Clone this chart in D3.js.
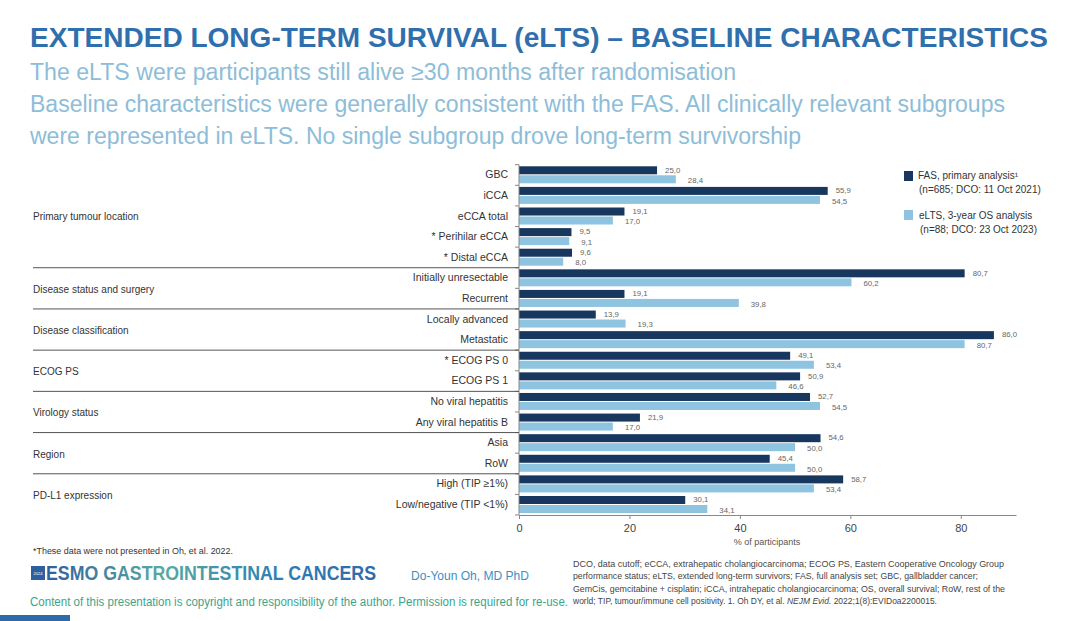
<!DOCTYPE html>
<html>
<head>
<meta charset="utf-8">
<script src="https://cdn.jsdelivr.net/npm/d3@7"></script>
<style>
  html, body { margin: 0; padding: 0; background: #fff; }
  svg { display: block; font-family: "Liberation Sans", Arial, sans-serif; }
</style>
</head>
<body>
<div id="chart"></div>
<script>
// categories, top to bottom
const CATEGORIES = [
  "GBC", "iCCA", "eCCA total", "* Perihilar eCCA", "* Distal eCCA",
  "Initially unresectable", "Recurrent",
  "Locally advanced", "Metastatic",
  "* ECOG PS 0", "ECOG PS 1",
  "No viral hepatitis", "Any viral hepatitis B",
  "Asia", "RoW",
  "High (TIP \u22651%)", "Low/negative (TIP <1%)"
];

// groups: label + number of categories in it
const GROUPS = [
  { label: "Primary tumour location", size: 5 },
  { label: "Disease status and surgery", size: 2 },
  { label: "Disease classification", size: 2 },
  { label: "ECOG PS", size: 2 },
  { label: "Virology status", size: 2 },
  { label: "Region", size: 2 },
  { label: "PD-L1 expression", size: 2 }
];

const FAS_VALUES  = [25.0, 55.9, 19.1, 9.5, 9.6, 80.7, 19.1, 13.9, 86.0, 49.1, 50.9, 52.7, 21.9, 54.6, 45.4, 58.7, 30.1];
const ELTS_VALUES = [28.4, 54.5, 17.0, 9.1, 8.0, 60.2, 39.8, 19.3, 80.7, 53.4, 46.6, 54.5, 17.0, 50.0, 50.0, 53.4, 34.1];

const X_TICKS = [0, 20, 40, 60, 80];

const SERIES = [
  { key: "fas", values: FAS_VALUES, color: "#17375e",
    legend: ["FAS, primary analysis\u00b9", "(n=685; DCO: 11 Oct 2021)"] },
  { key: "elts", values: ELTS_VALUES, color: "#8fc4e0",
    legend: ["eLTS, 3-year OS analysis", "(n=88; DCO: 23 Oct 2023)"] }
];

const ABBREV = [
  "DCO, data cutoff; eCCA, extrahepatic cholangiocarcinoma; ECOG PS, Eastern Cooperative Oncology Group",
  "performance status; eLTS, extended long-term survivors; FAS, full analysis set; GBC, gallbladder cancer;",
  "GemCis, gemcitabine + cisplatin; iCCA, intrahepatic cholangiocarcinoma; OS, overall survival; RoW, rest of the"
];

const W = 1080, H = 621;
const svg = d3.select("#chart").append("svg").attr("width", W).attr("height", H);

// ---- header ----
svg.append("text")
  .attr("x", 30).attr("y", 47)
  .attr("font-family", "'Liberation Sans Narrow', 'Liberation Sans', Arial, sans-serif")
  .attr("font-size", 28).attr("font-weight", "bold")
  .attr("fill", "#2f6fae")
  .attr("textLength", 1018).attr("lengthAdjust", "spacingAndGlyphs")
  .text("EXTENDED LONG-TERM SURVIVAL (eLTS) \u2013 BASELINE CHARACTERISTICS");

const subLines = [
  { t: "The eLTS were participants still alive \u226530 months after randomisation", y: 80, w: 706 },
  { t: "Baseline characteristics were generally consistent with the FAS. All clinically relevant subgroups", y: 112, w: 975 },
  { t: "were represented in eLTS. No single subgroup drove long-term survivorship", y: 144, w: 771 }
];
svg.selectAll(".sub").data(subLines).join("text")
  .attr("x", 30).attr("y", d => d.y)
  .attr("font-family", "'Liberation Sans Narrow', 'Liberation Sans', Arial, sans-serif")
  .attr("font-size", 23)
  .attr("fill", "#8dbdd8")
  .attr("textLength", d => d.w).attr("lengthAdjust", "spacingAndGlyphs")
  .text(d => d.t);

// ---- chart ----
const x = d3.scaleLinear().domain([0, 90]).range([519, 1016]);
const y = d3.scaleBand().domain(CATEGORIES).range([164.7, 515]);
const barH = 8;

const chart = svg.append("g");

// bars + value labels
SERIES.forEach((s, si) => {
  const barY = i => y(CATEGORIES[i]) + 1.6 + si * (barH + 1);
  chart.selectAll(".bar-" + s.key).data(s.values).join("rect")
    .attr("x", x(0))
    .attr("y", (d, i) => barY(i))
    .attr("width", d => x(d) - x(0))
    .attr("height", barH)
    .attr("fill", s.color);

  chart.selectAll(".val-" + s.key).data(s.values).join("text")
    .attr("x", d => x(d) + (si === 0 ? 8 : 12))
    .attr("y", (d, i) => barY(i) + barH / 2 + (si === 0 ? -0.5 : 1))
    .attr("dy", "0.35em")
    .attr("font-size", 7.8)
    .attr("fill", "#666")
    .text(d => d.toFixed(1).replace(".", ","));
});

// x axis
const xAxis = chart.append("g")
  .attr("transform", "translate(0,515)")
  .call(d3.axisBottom(x).tickValues(X_TICKS).tickSize(4).tickSizeOuter(0));
xAxis.select(".domain").attr("stroke", "#888");
xAxis.selectAll(".tick line").attr("stroke", "#888");
xAxis.selectAll("text").attr("font-size", 11).attr("fill", "#444").attr("dy", "0.9em");

chart.append("text")
  .attr("x", 767).attr("y", 545)
  .attr("text-anchor", "middle").attr("font-size", 9).attr("fill", "#555")
  .text("% of participants");

// y axis
const yAxis = chart.append("g")
  .attr("transform", "translate(519,0)")
  .call(d3.axisLeft(y).tickSize(0).tickPadding(11));
yAxis.select(".domain").attr("stroke", "#888").attr("d", `M0,${y.range()[0]}V515`);
yAxis.selectAll("text").attr("font-size", 10.5).attr("fill", "#333");

// ticks between categories
const bounds = d3.range(CATEGORIES.length + 1).map(i => y.range()[0] + i * y.step());
chart.selectAll(".ytick").data(bounds).join("line")
  .attr("x1", 515).attr("x2", 519)
  .attr("y1", d => d).attr("y2", d => d)
  .attr("stroke", "#888");

// group labels + separators
let start = 0;
GROUPS.forEach((g, gi) => {
  const top = y(CATEGORIES[start]);
  const bottom = y(CATEGORIES[start + g.size - 1]) + y.step();
  chart.append("text")
    .attr("x", 33)
    .attr("y", gi === 0 ? top + y.step() * 2.5 : (top + bottom) / 2 + 1)
    .attr("dy", "0.35em")
    .attr("font-size", 10).attr("fill", "#333")
    .text(g.label);
  if (gi < GROUPS.length - 1) {
    chart.append("line")
      .attr("x1", 33).attr("x2", 519)
      .attr("y1", bottom).attr("y2", bottom)
      .attr("stroke", "#555").attr("stroke-width", 1);
  }
  start += g.size;
});

// legend
const legend = svg.append("g");
SERIES.forEach((s, i) => {
  const ly = 171 + i * 39;
  legend.append("rect").attr("x", 904).attr("y", ly).attr("width", 9).attr("height", 10).attr("fill", s.color);
  legend.selectAll(".lg" + i).data(s.legend).join("text")
    .attr("x", 918 + (i === 1 ? 1 : 0)).attr("y", (d, j) => ly + 8 + j * 14 + (i === 1 ? 1 : 0))
    .attr("dx", (d, j) => j === 1 ? 1 : 0)
    .attr("font-size", 10).attr("fill", "#333")
    .text(d => d);
});

// ---- footer ----
svg.append("text")
  .attr("x", 33).attr("y", 554)
  .attr("font-size", 8.5).attr("fill", "#333")
  .attr("textLength", 200).attr("lengthAdjust", "spacingAndGlyphs")
  .text("*These data were not presented in Oh, et al. 2022.");

const grad = svg.append("defs").append("linearGradient").attr("id", "esmo");
grad.append("stop").attr("offset", "0%").attr("stop-color", "#2f5f9e");
grad.append("stop").attr("offset", "35%").attr("stop-color", "#5aa9a0");
grad.append("stop").attr("offset", "70%").attr("stop-color", "#2e7fb5");
grad.append("stop").attr("offset", "100%").attr("stop-color", "#2f6aa8");

svg.append("rect").attr("x", 31).attr("y", 566).attr("width", 14).attr("height", 14).attr("fill", "#2f5f9e");
svg.append("text").attr("x", 38).attr("y", 575).attr("text-anchor", "middle")
  .attr("font-size", 4).attr("fill", "#fff").text("2024");
svg.append("text")
  .attr("x", 46).attr("y", 580)
  .attr("font-family", "'Liberation Sans Narrow', 'Liberation Sans', Arial, sans-serif")
  .attr("font-size", 20).attr("font-weight", "bold")
  .attr("fill", "url(#esmo)")
  .attr("textLength", 330).attr("lengthAdjust", "spacingAndGlyphs")
  .text("ESMO GASTROINTESTINAL CANCERS");

svg.append("text")
  .attr("x", 411).attr("y", 580)
  .attr("font-size", 12).attr("fill", "#3b8fc4")
  .attr("textLength", 118).attr("lengthAdjust", "spacingAndGlyphs")
  .text("Do-Youn Oh, MD PhD");

svg.append("text")
  .attr("x", 30).attr("y", 606)
  .attr("font-size", 12).attr("fill", "#3aa58c")
  .attr("textLength", 538).attr("lengthAdjust", "spacingAndGlyphs")
  .text("Content of this presentation is copyright and responsibility of the author. Permission is required for re-use.");

const abbr = svg.append("g").attr("font-size", 8.6).attr("fill", "#444");
abbr.selectAll("text").data(ABBREV).join("text")
  .attr("x", 573).attr("y", (d, i) => 567 + i * 12.3)
  .attr("textLength", (d, i) => [431, 405, 432][i]).attr("lengthAdjust", "spacingAndGlyphs")
  .text(d => d);
const last = abbr.append("text").attr("x", 573).attr("y", 567 + 3 * 12.3)
  .attr("textLength", 364).attr("lengthAdjust", "spacingAndGlyphs");
last.append("tspan").text("world; TIP, tumour/immune cell positivity. 1. Oh DY, et al. ");
last.append("tspan").attr("font-style", "italic").text("NEJM Evid.");
last.append("tspan").text(" 2022;1(8):EVIDoa2200015.");

// bottom-left strip
svg.append("rect").attr("x", 0).attr("y", 615).attr("width", 70).attr("height", 6).attr("fill", "#2f6aa8");
</script>
</body>
</html>
